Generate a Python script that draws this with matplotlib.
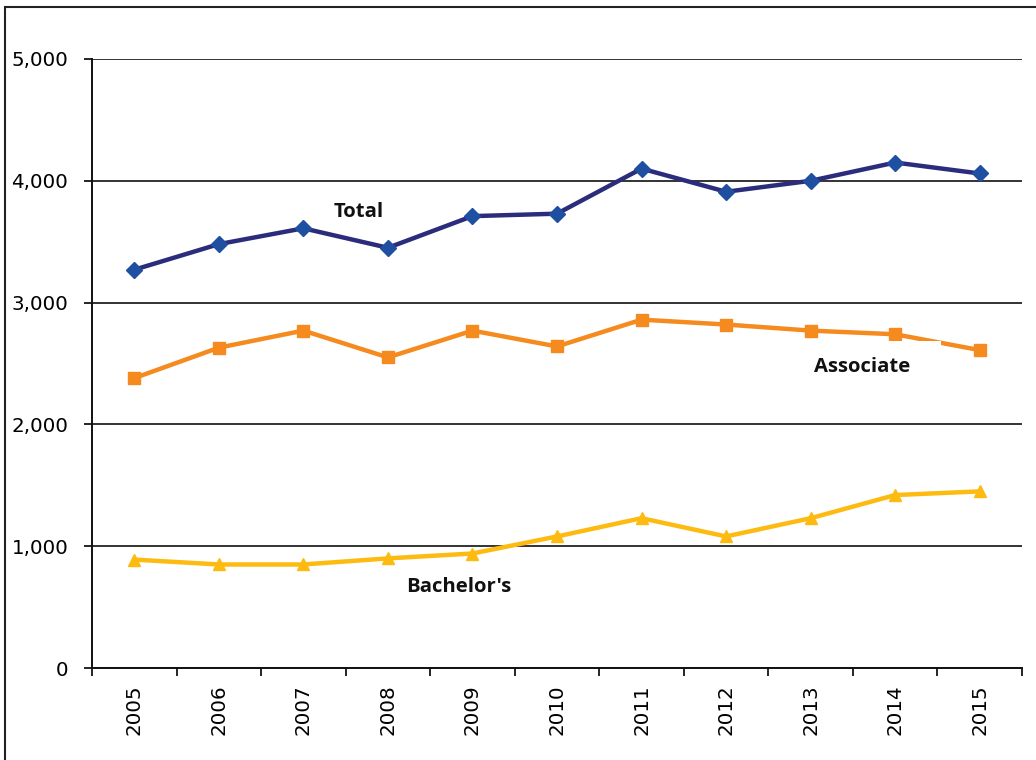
import matplotlib
matplotlib.use("Agg")
import matplotlib.pyplot as plt
from matplotlib.patches import Rectangle
from matplotlib.ticker import FixedLocator, FuncFormatter

years = ["2005", "2006", "2007", "2008", "2009", "2010", "2011", "2012", "2013", "2014", "2015"]
total = [3270, 3480, 3610, 3450, 3710, 3730, 4100, 3910, 4000, 4150, 4060]
associate = [2380, 2630, 2770, 2550, 2770, 2640, 2860, 2820, 2770, 2740, 2610]
bachelors = [890, 850, 850, 900, 940, 1080, 1230, 1080, 1230, 1420, 1450]
yticks = [0, 1000, 2000, 3000, 4000, 5000]

fig = plt.figure(figsize=(10.36, 7.6), dpi=100)
ax = fig.add_axes([92/1036, 92/760, 930/1036, 609/760])

# figure frame (extends beyond right/bottom edge)
fig.patches.append(Rectangle((5/1036, -0.1), 1.2, (760-7)/760 + 0.1,
                             transform=fig.transFigure, fill=False,
                             edgecolor="#222222", linewidth=1.5))

x = list(range(len(years)))
ax.plot(x, total, color="#2B2D7C", linewidth=3.2, marker="D", markersize=8,
        markerfacecolor="#1F4FA0", markeredgecolor="#1F4FA0", zorder=4, clip_on=False)
ax.plot(x, associate, color="#F58A1F", linewidth=3.2, marker="s", markersize=8.5,
        markerfacecolor="#F58A1F", markeredgecolor="#F58A1F", zorder=4, clip_on=False)
ax.plot(x, bachelors, color="#FDBB12", linewidth=3.2, marker="^", markersize=9,
        markerfacecolor="#FDBB12", markeredgecolor="#FDBB12", zorder=4, clip_on=False)

ax.set_xlim(-0.5, len(years) - 0.5)
ax.set_ylim(0, 5000)

ax.yaxis.set_major_locator(FixedLocator(yticks))
ax.yaxis.set_major_formatter(FuncFormatter(lambda v, p: f"{int(v):,}"))
ax.grid(axis="y", color="#111111", linewidth=1.2)
ax.set_axisbelow(True)

ax.set_xticks([i - 0.5 for i in range(len(years) + 1)])
ax.set_xticklabels([])
ax.set_xticks(x, minor=True)
ax.set_xticklabels(years, minor=True, rotation=90, fontsize=14.3, family="DejaVu Sans")
ax.tick_params(axis="x", which="minor", length=0, pad=12)
ax.tick_params(axis="x", which="major", length=6, width=1.2, direction="out")
ax.tick_params(axis="y", length=6, width=1.2, direction="out", labelsize=14.3, pad=11)

for s in ["top", "right"]:
    ax.spines[s].set_visible(False)
for s in ["left", "bottom"]:
    ax.spines[s].set_linewidth(1.4)
    ax.spines[s].set_color("#111111")

# white background box of the "Associate" label (overlaps the line slightly)
ax.add_patch(Rectangle((7.9, 2300), 9.54 - 7.9, 2688 - 2300, facecolor="white",
                       edgecolor="none", zorder=5))

lab = dict(fontsize=14.6, fontweight="bold", family="Open Sans", ha="center", va="center",
           color="#111111", zorder=6)
ax.text(2.66, 3745, "Total", **lab)
ax.text(8.61, 2475, "Associate", **lab)
ax.text(3.84, 665, "Bachelor's", **lab)

fig.savefig("out.png", dpi=100)
